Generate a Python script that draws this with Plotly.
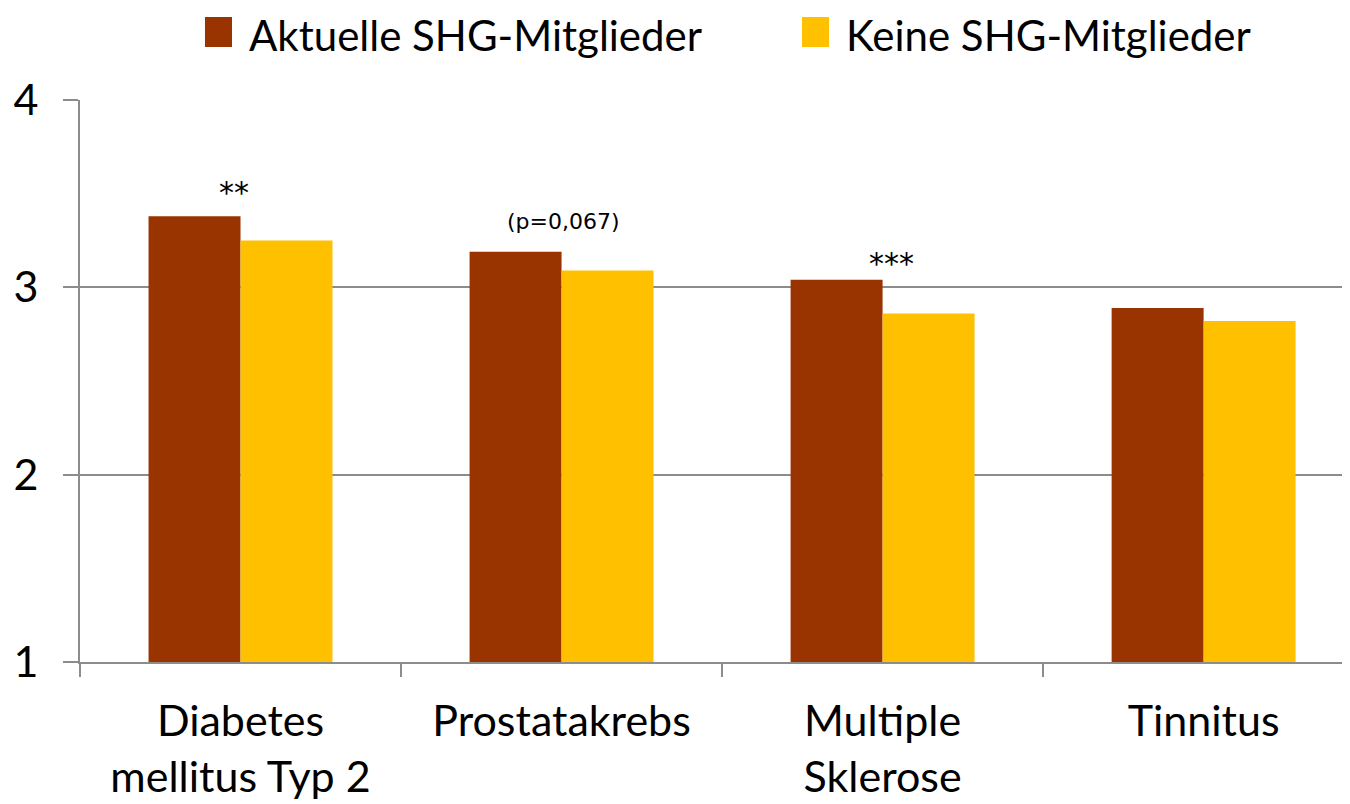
import plotly.graph_objects as go

# data
categories = ["Diabetes<br>mellitus Typ 2", "Prostatakrebs", "Multiple<br>Sklerose", "Tinnitus"]
series_names = ["Aktuelle SHG-Mitglieder", "Keine SHG-Mitglieder"]
members = [3.38, 3.19, 3.04, 2.89]
non_members = [3.25, 3.09, 2.86, 2.82]
sig_labels = ["**", "(p=0,067)", "***", ""]

colors = ["#993300", "#FFC000"]
FONT = "Lato"
AXIS_MIN = 1

fig = go.Figure()
for name, vals, col in zip(series_names, [members, non_members], colors):
    fig.add_trace(go.Bar(
        x=categories, y=[v - AXIS_MIN for v in vals], base=AXIS_MIN, name=name,
        marker=dict(color=col, line=dict(width=0)), showlegend=False,
        customdata=vals, hovertemplate="%{customdata}<extra>" + name + "</extra>",
    ))

# significance labels above each group (stars a bit larger than the p-value)
shifts = [(-7, 4, 30), (2, 16, 22), (9, -3, 30), (0, 0, 22)]
for cat, lab, a, b, (dx, dy, fs) in zip(categories, sig_labels, members, non_members, shifts):
    if not lab:
        continue
    fig.add_annotation(
        x=cat, y=max(a, b), text=lab, showarrow=False,
        yanchor="bottom", xshift=dx, yshift=dy,
        font=dict(family="DejaVu Sans", size=fs, color="black"),
    )

# legend drawn by hand so the squares can be large
legend_pos = [0.0984, 0.5685]
for name, col, lx in zip(series_names, colors, legend_pos):
    fig.add_shape(type="rect", xref="paper", yref="paper",
                  x0=lx, x1=lx + 0.0213, y0=1.0943, y1=1.1477,
                  fillcolor=col, line=dict(width=0))
    fig.add_annotation(x=lx + 0.033, y=1.116, xref="paper", yref="paper",
                       text=name, showarrow=False, xanchor="left", yanchor="middle",
                       font=dict(family=FONT, size=42, color="black"))

fig.update_layout(
    width=1342, height=796,
    margin=dict(l=72, r=0, t=92, b=142),
    plot_bgcolor="white", paper_bgcolor="white",
    barmode="group", bargap=0.427, bargroupgap=0,
    font=dict(family=FONT, size=43, color="black"),
)
fig.update_xaxes(
    range=[-0.5, 3.456], tickson="boundaries", ticks="outside", ticklen=13,
    tickcolor="#8c8c8c", tickwidth=2, showline=True, linecolor="#8c8c8c", linewidth=2,
    showgrid=False, tickfont=dict(family=FONT, size=43), ticklabelstandoff=20,
)
fig.update_yaxes(
    range=[1, 4], tickvals=[1, 2, 3, 4],
    ticks="outside", ticklen=15, tickcolor="#8c8c8c", tickwidth=2,
    showline=True, linecolor="#8c8c8c", linewidth=2,
    showgrid=True, gridcolor="#8c8c8c", gridwidth=2, zeroline=False,
    ticklabelstandoff=16, tickfont=dict(family=FONT, size=43),
)

fig.write_html("out.html")
